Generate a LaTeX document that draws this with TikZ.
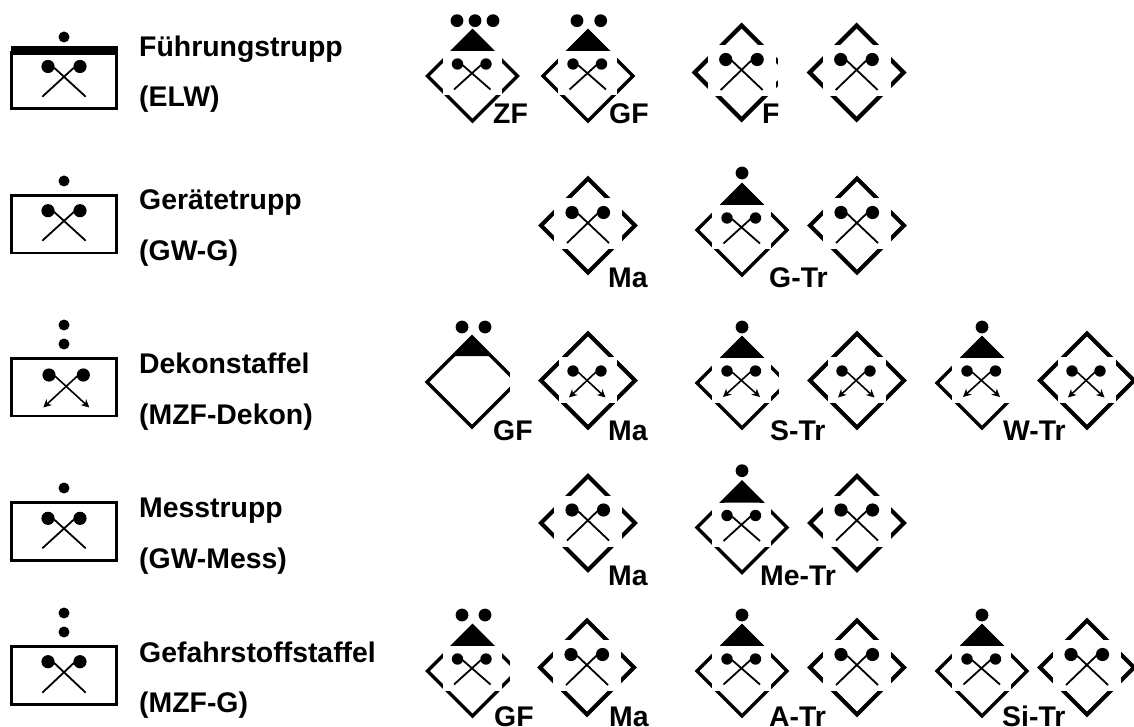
\documentclass[tikz,border=0pt]{standalone}
\usepackage{fontspec}
\usetikzlibrary{arrows.meta}
\setmainfont{Liberation Sans}
\tikzset{
  stem/.style={line width=1.8pt},
  arrowstem/.style={line width=1.6pt,-{Stealth[length=8pt,width=8pt,inset=2.5pt]}},
  thin diamond/.style={line width=3.3pt,miter limit=10},
  thick diamond/.style={line width=4.2pt,miter limit=10},
  frame/.style={line width=2.7pt},
  lab/.style={font=\bfseries\fontsize{28.4}{30}\selectfont,anchor=base west,inner sep=0pt},
}
% #1 style, #2 left ball x, #3 right ball x, #4 ball y, #5 left end x, #6 right end x, #7 end y, #8 radius
\newcommand{\crs}[8]{%
  \draw[#1] (#2+#8-0.5,#4+1.2) -- (#6,#7);
  \draw[#1] (#3-#8+0.5,#4+1.2) -- (#5,#7);
  \fill (#2,#4) circle (#8);
  \fill (#3,#4) circle (#8);
}
\newcommand{\dia}[4]{\draw[#1] (#2,#3-#4) -- (#2+#4,#3) -- (#2,#3+#4) -- (#2-#4,#3) -- cycle;}
% leader type: diamond, triangle, patch, small cross
\newcommand{\lead}[2]{%
  \dia{thin diamond}{#1}{#2}{45}
  \fill (#1,#2-47) -- (#1+22,#2-25) -- (#1-22,#2-25) -- cycle;
  \fill[white] (#1-30,#2-25) rectangle (#1+29,#2+19.5);
  \crs{stem}{#1-15}{#1+13.5}{#2-12}{#1-18.5}{#1+18}{#2+13.5}{5.7}
}
\newcommand{\leada}[2]{%
  \dia{thin diamond}{#1}{#2}{45}
  \fill (#1,#2-47) -- (#1+22,#2-25) -- (#1-22,#2-25) -- cycle;
  \fill[white] (#1-30,#2-25) rectangle (#1+29,#2+19.5);
  \crs{arrowstem}{#1-15}{#1+13.5}{#2-12}{#1-19}{#1+18}{#2+14}{5.7}
}
% crew type: thick diamond, wide patch, big cross
\newcommand{\crew}[2]{%
  \dia{thick diamond}{#1}{#2}{47}
  \fill[white] (#1-34,#2-27.5) rectangle (#1+34,#2+23.5);
  \crs{stem}{#1-16}{#1+15.5}{#2-13}{#1-21}{#1+21}{#2+17.5}{6.6}
}
% crew type with arrows: thick diamond, narrower patch
\newcommand{\crewa}[2]{%
  \dia{thick diamond}{#1}{#2}{47}
  \fill[white] (#1-29.5,#2-23.5) rectangle (#1+29,#2+22.5);
  \crs{arrowstem}{#1-15}{#1+13}{#2-9.5}{#1-19}{#1+17.5}{#2+17}{5.7}
}
\newcommand{\dt}[2]{\fill (#1,#2) circle (6.4);}
\newcommand{\sdt}[2]{\fill (#1,#2) circle (5.5);}
\begin{document}
\begin{tikzpicture}[x=1pt,y=-1pt]
\useasboundingbox (0,0) rectangle (1134,727);
\fill[white] (0,0) rectangle (1134,727);
% ---------- left column
\draw[frame] (11.3,52) rectangle (116.7,108.7);
\fill (11,46) rectangle (117.5,55);
\crs{stem}{48}{80}{66.5}{42.3}{85.7}{96.7}{6.6}
\sdt{64}{37}
\node[lab] (t1) at (139,57) {Führungstrupp};
\node[lab] (t1b) at (139,107) {(ELW)};

\draw[frame] (11.3,195.3) rectangle (116.7,253);
\crs{stem}{48}{80}{210.7}{42.3}{85.7}{240.7}{6.6}
\sdt{64}{181}
\node[lab] (t2) at (139,210) {Gerätetrupp};
\node[lab] (t2b) at (139,261) {(GW-G)};

\draw[frame] (11.3,358.6) rectangle (116.7,416);
\crs{arrowstem}{49}{83.3}{375}{43.3}{89.3}{407.5}{6.6}
\sdt{64}{325}\sdt{64}{344}
\node[lab] (t3) at (139,373) {Dekonstaffel};
\node[lab] (t3b) at (139,424) {(MZF-Dekon)};

\draw[frame] (11.3,502.3) rectangle (116.7,560.4);
\crs{stem}{48}{80}{518.3}{42.3}{85.7}{548.3}{6.6}
\sdt{64}{488}
\node[lab] (t4) at (139,517) {Messtrupp};
\node[lab] (t4b) at (139,568) {(GW-Mess)};

\draw[frame] (11.3,646.6) rectangle (116.7,704.4);
\crs{stem}{48}{80}{661.7}{42.3}{85.7}{692.7}{6.6}
\sdt{64}{613}\sdt{64}{632}
\node[lab] (t5) at (139,662) {Gefahrstoffstaffel};
\node[lab] (t5b) at (139,712) {(MZF-G)};

% ---------- row 1
\lead{472.5}{76}\dt{457}{20.7}\dt{475}{20.7}\dt{493}{20.7}
\lead{588}{76}\dt{577}{20.7}\dt{600.7}{20.7}
\crew{741.7}{72.5}
\fill[white] (778,40) rectangle (800,100);
\crew{856.7}{72.5}
\node[lab] (r1a) at (493,124) {ZF};
\node[lab] (r1b) at (609,124) {GF};
\node[lab] (r1c) at (762,124) {F};

% ---------- row 2
\crew{588}{225.5}
\lead{742}{230}\dt{742}{173}
\crew{857}{225.5}
\node[lab] (r2a) at (608,287) {Ma};
\node[lab] (r2b) at (769,287) {G-Tr};

% ---------- row 3
\dia{thin diamond}{472}{382}{45}
\fill (472,335) -- (491,356) -- (453,356) -- cycle;
\fill[white] (510,360) rectangle (525,405);
\dt{462}{327}\dt{485}{327}
\crewa{588}{380.5}
\leada{742}{383}\dt{742}{327}
\fill[white] (779,357) rectangle (795,403);
\crewa{857}{380.5}
\leada{982}{383}\dt{982}{327}
\fill[white] (1010,357) rectangle (1032,403);
\crewa{1087}{380.5}
\node[lab] (r3a) at (493,440) {GF};
\node[lab] (r3b) at (608,440) {Ma};
\node[lab] (r3c) at (770,440) {S-Tr};
\node[lab] (r3d) at (1003,440) {W-Tr};

% ---------- row 4
\crew{588}{523}
\lead{742}{527.5}\dt{742}{470.7}
\crew{857}{523}
\node[lab] (r4a) at (608,585) {Ma};
\node[lab] (r4b) at (760,585) {Me-Tr};

% ---------- row 5
\lead{472.5}{671}
\fill[white] (510,640) rectangle (525,695);
\dt{462}{615}\dt{485}{615}
\crew{587}{667.5}
\lead{742}{671}\dt{742}{615}
\crew{857}{667.5}
\lead{982}{671}\dt{982}{615}
\crew{1087}{667.5}
\node[lab] (r5a) at (494,726) {GF};
\node[lab] (r5b) at (609,726) {Ma};
\node[lab] (r5c) at (769,726) {A-Tr};
\node[lab] (r5d) at (1002,726) {Si-Tr};
\end{tikzpicture}
\end{document}
